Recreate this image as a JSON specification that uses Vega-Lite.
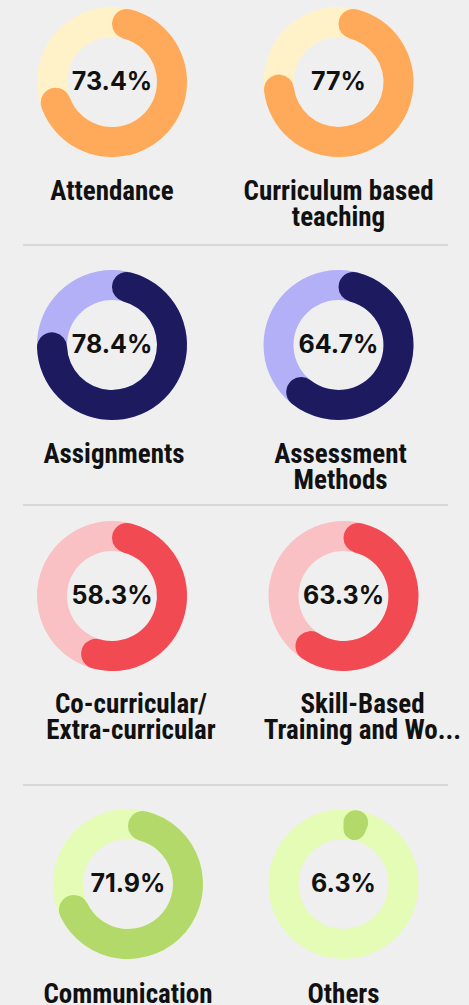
{
  "$schema": "https://vega.github.io/schema/vega-lite/v6.json",
  "background": "#efefef",
  "padding": {"left": 22, "top": 0, "right": 24, "bottom": 24},
  "bounds": "flush",
  "spacing": 0,
  "config": {
    "view": {"stroke": null},
    "arc": {"innerRadius": 45, "outerRadius": 75},
    "text": {"font": "Inter", "fontWeight": "bold", "fontSize": 25, "color": "#111111"}
  },
  "data": {
    "values": [
      {"id": "att", "label": "Attendance", "share": 0.734},
      {"id": "cur", "label": "Curriculum based\nteaching", "share": 0.77},
      {"id": "asg", "label": "Assignments", "share": 0.784},
      {"id": "asm", "label": "Assessment\nMethods", "share": 0.647},
      {"id": "coc", "label": "Co-curricular/\nExtra-curricular", "share": 0.583},
      {"id": "skl", "label": "Skill-Based\nTraining and Wo...", "share": 0.633},
      {"id": "com", "label": "Communication", "share": 0.719},
      {"id": "oth", "label": "Others", "share": 0.063}
    ]
  },
  "vconcat": [
    {
      "width": 404.5, "height": 164,
      "transform": [{"filter": {"field": "id", "oneOf": ["att", "cur"]}}],
      "encoding": {"x": {"field": "id", "type": "nominal", "sort": null, "scale": {"type": "point", "padding": 0.3929}, "axis": null}},
      "layer": [
        {"mark": {"type": "arc", "color": "#FFF2C9"}, "encoding": {}},
        {"mark": {"type": "arc", "cornerRadius": 15, "color": "#FFA95A"}, "encoding": {"theta": {"field": "share", "type": "quantitative", "stack": null, "scale": {"domain": [0, 1], "range": [0, 6.283185]}}, "theta2": {"datum": 0}}},
        {"mark": {"type": "text"}, "encoding": {"text": {"field": "share", "type": "quantitative", "format": ".1~%"}}},
        {"mark": {"type": "text", "font": "Roboto Condensed", "fontSize": 27, "dy": 118, "baseline": "alphabetic", "lineBreak": "\n", "lineHeight": 26}, "encoding": {"text": {"field": "label"}}}
      ]
    },
    {
      "width": 425, "height": 81,
      "data": {"values": [{}]},
      "mark": {"type": "rule", "color": "#d8d8d8", "strokeWidth": 2},
      "encoding": {"y": {"datum": 0, "type": "quantitative", "scale": {"domain": [0, 1]}, "axis": null}}
    },
    {
      "width": 404.5, "height": 200,
      "transform": [{"filter": {"field": "id", "oneOf": ["asg", "asm"]}}],
      "encoding": {"x": {"field": "id", "type": "nominal", "sort": null, "scale": {"type": "point", "padding": 0.3929}, "axis": null}},
      "layer": [
        {"mark": {"type": "arc", "color": "#B3B0F8"}, "encoding": {}},
        {"mark": {"type": "arc", "cornerRadius": 15, "color": "#1D1A5F"}, "encoding": {"theta": {"field": "share", "type": "quantitative", "stack": null, "scale": {"domain": [0, 1], "range": [0, 6.283185]}}, "theta2": {"datum": 0}}},
        {"mark": {"type": "text"}, "encoding": {"text": {"field": "share", "type": "quantitative", "format": ".1~%"}}},
        {"mark": {"type": "text", "font": "Roboto Condensed", "fontSize": 27, "dy": 118, "dx": 2, "baseline": "alphabetic", "lineBreak": "\n", "lineHeight": 26}, "encoding": {"text": {"field": "label"}}}
      ]
    },
    {
      "width": 425, "height": 60,
      "data": {"values": [{}]},
      "mark": {"type": "rule", "color": "#d8d8d8", "strokeWidth": 2},
      "encoding": {"y": {"datum": 0, "type": "quantitative", "scale": {"domain": [0, 1]}, "axis": null}}
    },
    {
      "width": 409.5, "height": 182,
      "transform": [{"filter": {"field": "id", "oneOf": ["coc", "skl"]}}],
      "encoding": {"x": {"field": "id", "type": "nominal", "sort": null, "scale": {"type": "point", "padding": 0.3845}, "axis": null}},
      "layer": [
        {"mark": {"type": "arc", "color": "#F9C1C4"}, "encoding": {}},
        {"mark": {"type": "arc", "cornerRadius": 15, "color": "#F24A52"}, "encoding": {"theta": {"field": "share", "type": "quantitative", "stack": null, "scale": {"domain": [0, 1], "range": [0, 6.283185]}}, "theta2": {"datum": 0}}},
        {"mark": {"type": "text"}, "encoding": {"text": {"field": "share", "type": "quantitative", "format": ".1~%"}}},
        {"mark": {"type": "text", "font": "Roboto Condensed", "fontSize": 27, "dy": 117, "dx": 19, "baseline": "alphabetic", "lineBreak": "\n", "lineHeight": 26}, "encoding": {"text": {"field": "label"}}}
      ]
    },
    {
      "width": 425, "height": 98,
      "data": {"values": [{}]},
      "mark": {"type": "rule", "color": "#d8d8d8", "strokeWidth": 2},
      "encoding": {"y": {"datum": 0, "type": "quantitative", "scale": {"domain": [0, 1]}, "axis": null}}
    },
    {
      "width": 425.5, "height": 198,
      "transform": [{"filter": {"field": "id", "oneOf": ["com", "oth"]}}],
      "encoding": {"x": {"field": "id", "type": "nominal", "sort": null, "scale": {"type": "point", "padding": 0.4872}, "axis": null}},
      "layer": [
        {"mark": {"type": "arc", "color": "#E4FCB5"}, "encoding": {}},
        {"mark": {"type": "arc", "cornerRadius": 15, "color": "#B2D96A"}, "encoding": {"theta": {"field": "share", "type": "quantitative", "stack": null, "scale": {"domain": [0, 1], "range": [0, 6.283185]}}, "theta2": {"datum": 0}}},
        {"mark": {"type": "text"}, "encoding": {"text": {"field": "share", "type": "quantitative", "format": ".1~%"}}},
        {"mark": {"type": "text", "font": "Roboto Condensed", "fontSize": 27, "dy": 119, "baseline": "alphabetic", "lineBreak": "\n", "lineHeight": 26}, "encoding": {"text": {"field": "label"}}}
      ]
    }
  ]
}
